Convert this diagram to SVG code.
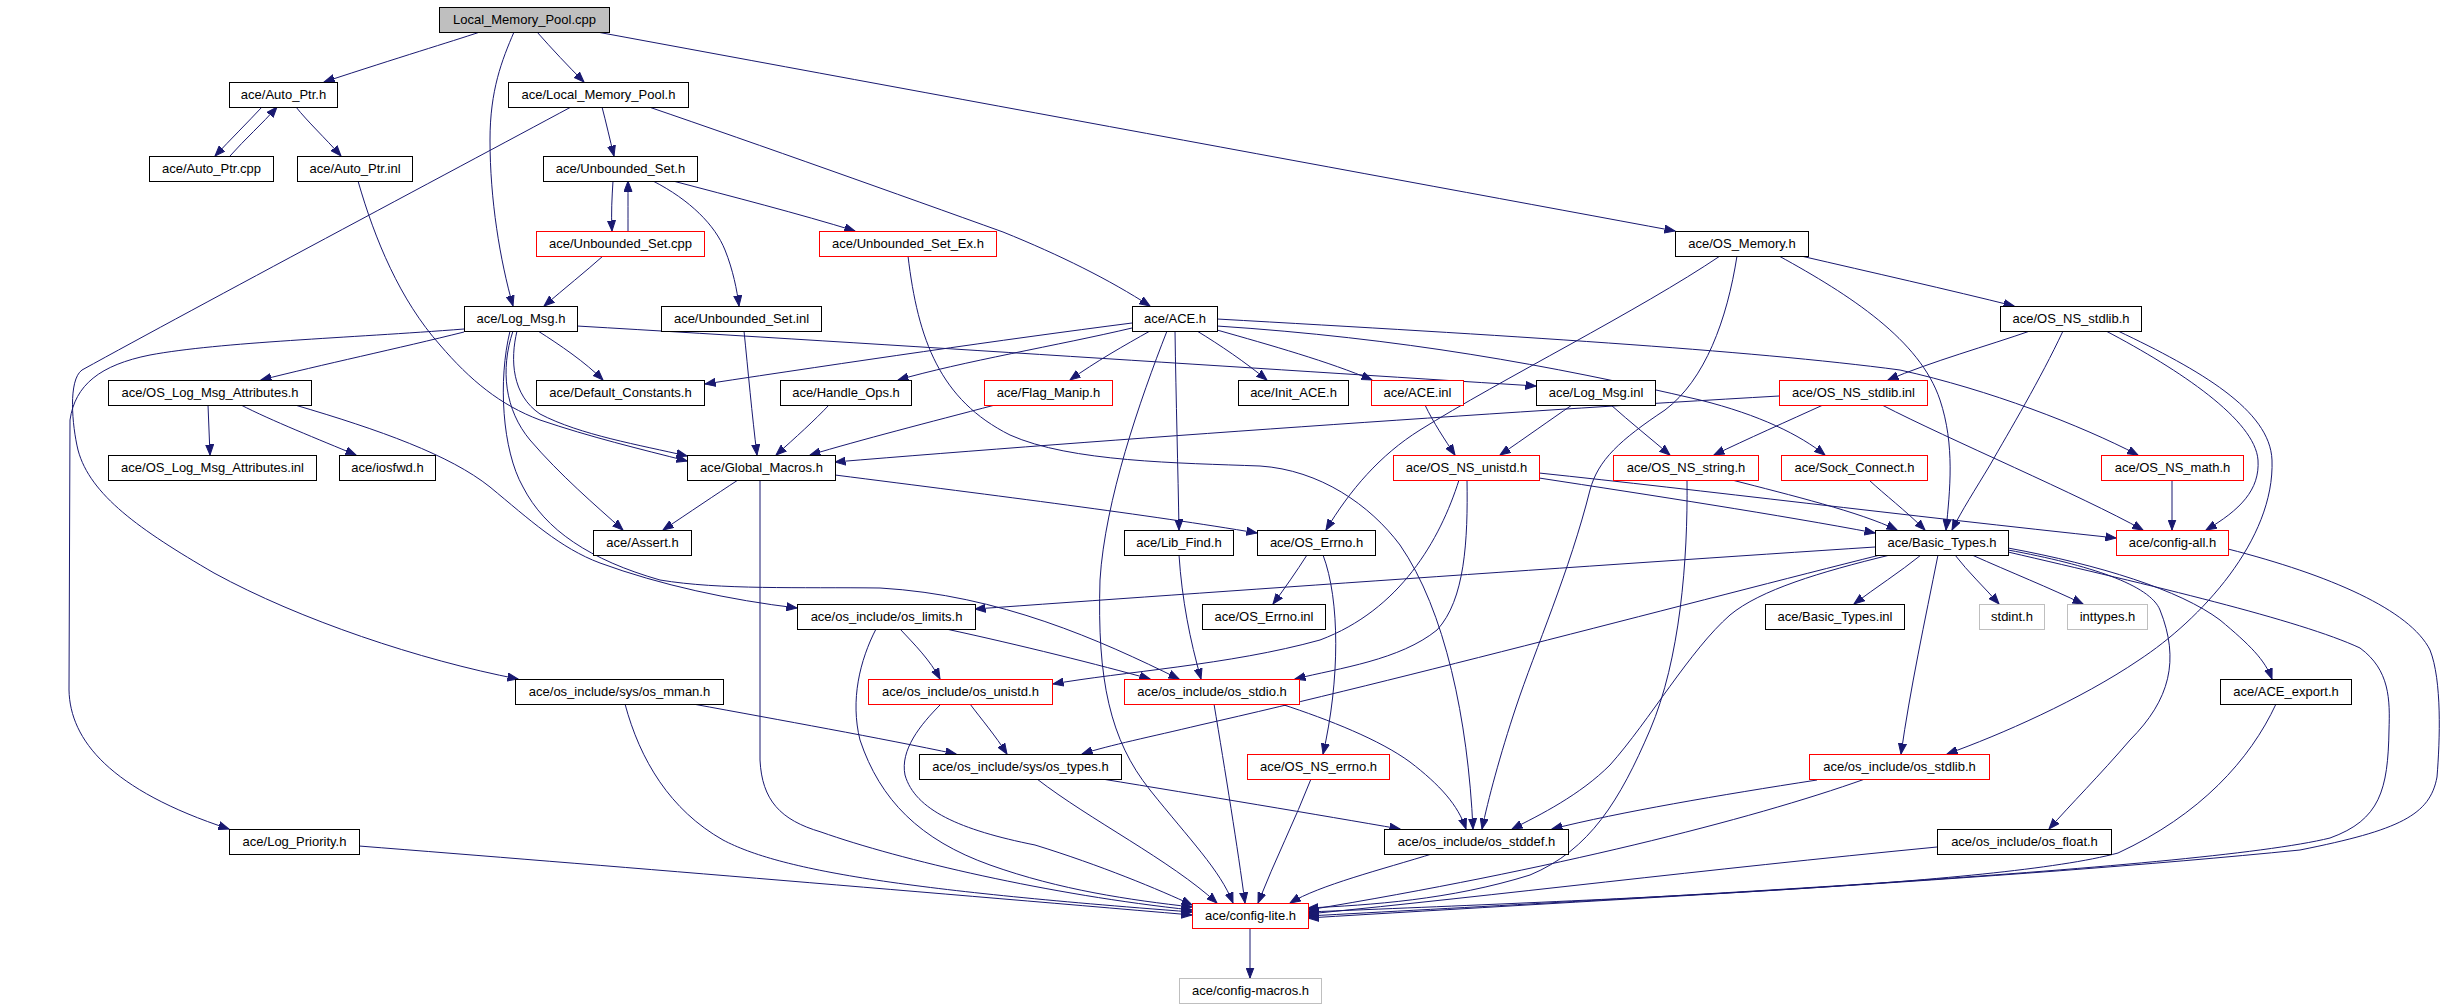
<svg xmlns="http://www.w3.org/2000/svg" width="2457" height="1008" viewBox="0 0 2457 1008">
<defs>
<marker id="a" markerWidth="11" markerHeight="9" refX="10.5" refY="4.5" orient="auto" markerUnits="userSpaceOnUse"><path d="M0,0.5 L10.5,4.5 L0,8.5 z" fill="#191970" stroke="#191970" stroke-width="1"/></marker>
<style>
.n rect{fill:#fff;stroke:#000;stroke-width:1}
.n.r rect{stroke:#f00}
.n.g rect{stroke:#bfbfbf}
.n.root rect{fill:#bfbfbf}
text{font-family:"Liberation Sans",Arial,Helvetica,sans-serif;font-size:13px;text-anchor:middle;fill:#000}
#edges path{fill:none;stroke:#191970;stroke-width:1;marker-end:url(#a)}
</style>
</defs>
<rect width="2457" height="1008" fill="#fff"/>
<g id="edges">
<path d="M480,32 C450,42 400,57 324,82"/>
<path d="M514,32 C502,60 490,90 490,140 C490,200 500,260 513,306"/>
<path d="M537,32 C552,49 568,66 584,82"/>
<path d="M597,32 C900,88 1400,180 1675,231"/>
<path d="M262,107 C248,122 230,140 215,156"/>
<path d="M230,156 C245,139 262,124 277,107"/>
<path d="M296,107 C307,121 325,138 341,156"/>
<path d="M358,181 C375,240 400,300 440,345 C470,380 500,405 540,420 C590,437 640,449 687,461"/>
<path d="M602,107 C606,122 610,140 614,156"/>
<path d="M649,107 C760,145 900,195 1003,232 C1060,255 1110,280 1150,306"/>
<path d="M571,107 C450,172 200,305 82,370 C68,380 72,425 78,450 C90,495 140,530 214,573 C300,620 420,660 518,679"/>
<path d="M613,181 C612,197 611,213 612,231"/>
<path d="M628,231 C628,215 628,198 628,181"/>
<path d="M673,181 C730,196 800,214 855,231"/>
<path d="M653,181 C690,200 715,225 725,250 C733,270 737,290 739,306"/>
<path d="M603,256 C585,272 565,288 544,306"/>
<path d="M908,256 C918,340 940,400 1010,435 C1070,462 1180,463 1260,466 C1320,470 1370,505 1400,545 C1445,610 1468,720 1473,829"/>
<path d="M744,331 C748,370 752,415 757,455"/>
<path d="M1132,323 C1000,340 850,362 705,384"/>
<path d="M1132,328 C1060,345 960,362 898,380"/>
<path d="M1150,331 C1125,345 1095,362 1070,380"/>
<path d="M1197,331 C1220,345 1245,362 1267,380"/>
<path d="M1217,330 C1270,345 1330,362 1372,380"/>
<path d="M1217,319 C1500,335 1750,350 1900,370 C1990,390 2080,425 2138,455"/>
<path d="M1217,326 C1400,338 1550,365 1700,400 C1760,415 1800,435 1825,455"/>
<path d="M1175,331 C1176,400 1178,470 1179,530"/>
<path d="M1167,331 C1140,400 1105,500 1100,580 C1097,680 1110,740 1150,790 C1190,840 1220,870 1233,903"/>
<path d="M1779,396 C1500,412 1100,440 835,462"/>
<path d="M829,405 C815,420 795,438 776,455"/>
<path d="M995,405 C930,422 860,440 810,455"/>
<path d="M738,480 C715,495 690,512 663,530"/>
<path d="M760,480 L760,760 C762,800 780,820 821,832 C900,860 1050,895 1192,910"/>
<path d="M835,475 C1000,496 1150,515 1257,533"/>
<path d="M1572,405 C1550,420 1525,438 1500,455"/>
<path d="M1611,405 C1630,422 1650,438 1670,455"/>
<path d="M1425,405 C1433,422 1445,440 1455,455"/>
<path d="M1801,256 C1870,272 1950,290 2014,306"/>
<path d="M1737,256 C1727,320 1705,380 1665,410 C1620,440 1598,460 1590,490 C1570,570 1535,650 1516,707 C1500,755 1488,800 1482,829"/>
<path d="M1720,256 C1640,310 1500,380 1420,430 C1380,455 1350,490 1326,530"/>
<path d="M1779,256 C1850,295 1920,340 1940,400 C1955,445 1950,490 1946,530"/>
<path d="M2030,331 C1990,345 1930,362 1888,380"/>
<path d="M2063,331 C2040,380 2010,430 1990,465 C1975,490 1962,510 1952,530"/>
<path d="M2118,331 C2200,370 2270,410 2272,460 C2275,540 2200,620 2139,660 C2080,700 2000,735 1947,754"/>
<path d="M2106,331 C2180,370 2255,420 2258,460 C2260,490 2240,510 2206,530"/>
<path d="M1823,405 C1790,420 1745,440 1714,455"/>
<path d="M1882,405 C1950,440 2080,495 2143,530"/>
<path d="M1869,480 C1885,495 1905,510 1925,530"/>
<path d="M2172,480 L2172,530"/>
<path d="M1539,473 C1700,490 1900,515 2116,538"/>
<path d="M1539,478 C1650,495 1780,515 1875,533"/>
<path d="M1732,480 C1790,495 1860,512 1897,530"/>
<path d="M1459,480 C1440,540 1400,610 1320,640 C1230,665 1120,672 1053,684"/>
<path d="M1467,480 C1468,540 1465,600 1437,630 C1400,660 1340,668 1295,679"/>
<path d="M1687,480 C1688,560 1680,660 1650,730 C1620,800 1590,850 1530,875 C1450,900 1370,905 1308,908"/>
<path d="M1179,555 C1182,600 1190,640 1201,679"/>
<path d="M1307,555 C1296,572 1285,588 1273,604"/>
<path d="M1323,555 C1340,600 1340,680 1323,754"/>
<path d="M1311,779 C1295,820 1275,860 1258,903"/>
<path d="M1214,704 C1225,770 1238,850 1245,903"/>
<path d="M1281,704 C1330,720 1380,740 1410,762 C1440,785 1458,805 1466,829"/>
<path d="M1435,853 C1380,870 1320,885 1290,903"/>
<path d="M900,629 C915,645 930,660 940,679"/>
<path d="M946,629 C1020,645 1100,665 1150,679"/>
<path d="M876,629 C860,660 850,700 860,740 C880,800 920,840 990,865 C1060,890 1130,900 1192,907"/>
<path d="M970,704 C982,720 995,735 1007,754"/>
<path d="M941,704 C920,725 900,750 905,775 C915,810 960,830 1035,845 C1100,865 1160,890 1192,905"/>
<path d="M693,704 C780,720 880,738 956,754"/>
<path d="M625,704 C640,760 670,810 723,840 C780,870 900,890 1192,912"/>
<path d="M1037,779 C1090,820 1170,860 1217,903"/>
<path d="M1102,779 C1200,795 1320,815 1400,829"/>
<path d="M359,846 C600,865 900,890 1192,915"/>
<path d="M1250,928 L1250,978"/>
<path d="M1921,555 C1900,572 1875,588 1854,604"/>
<path d="M1955,555 C1968,572 1985,588 1999,604"/>
<path d="M1972,555 C2010,572 2050,588 2083,604"/>
<path d="M2008,548 C2100,565 2180,590 2220,620 C2250,645 2265,660 2272,679"/>
<path d="M2008,550 C2090,565 2150,585 2160,610 C2180,660 2170,700 2130,740 C2100,775 2070,805 2049,829"/>
<path d="M2008,552 C2150,585 2300,620 2360,648 C2390,670 2390,700 2389,730 C2388,790 2380,820 2330,838 C2200,870 1600,900 1308,916"/>
<path d="M2228,549 C2330,575 2410,610 2430,650 C2442,680 2440,740 2437,777 C2430,815 2400,830 2300,850 C2000,880 1600,900 1308,918"/>
<path d="M2276,704 C2250,760 2200,815 2118,853 C2000,885 1600,900 1308,912"/>
<path d="M1937,847 C1700,870 1500,895 1308,914"/>
<path d="M1865,779 C1750,820 1550,870 1308,910"/>
<path d="M1817,780 C1720,795 1620,812 1552,829"/>
<path d="M1890,555 C1820,572 1760,590 1730,615 C1690,650 1650,720 1610,765 C1580,795 1540,815 1512,829"/>
<path d="M1880,555 C1700,600 1400,680 1200,725 C1150,737 1110,745 1082,754"/>
<path d="M1875,547 C1600,565 1200,593 975,609"/>
<path d="M1938,555 C1925,620 1910,690 1901,754"/>
<path d="M464,332 C400,348 320,365 261,380"/>
<path d="M538,331 C560,345 585,362 603,380"/>
<path d="M464,329 C350,338 220,342 150,355 C100,365 75,385 70,420 L69,690 C70,740 110,790 229,829"/>
<path d="M517,331 C510,360 512,395 540,414 C580,435 640,445 687,456"/>
<path d="M513,331 C500,370 505,410 530,440 C560,475 595,505 623,530"/>
<path d="M510,331 C498,380 502,450 523,487 C545,530 590,560 660,580 C720,590 800,587 880,588 C1000,595 1100,640 1179,679"/>
<path d="M295,405 C380,430 450,455 490,487 C530,520 560,548 600,563 C660,585 730,600 797,608"/>
<path d="M208,405 L210,455"/>
<path d="M241,405 C270,420 320,440 356,455"/>
<path d="M577,326 C900,345 1250,368 1536,386"/>
</g>
<g id="LMP_cpp" class="n root"><rect x="439.5" y="7.5" width="170" height="25"/><text x="524.5" y="24">Local_Memory_Pool.cpp</text></g>
<g id="Auto_Ptr_h" class="n"><rect x="229.5" y="82.5" width="108" height="25"/><text x="283.5" y="99">ace/Auto_Ptr.h</text></g>
<g id="Local_Memory_Pool_h" class="n"><rect x="508.5" y="82.5" width="180" height="25"/><text x="598.5" y="99">ace/Local_Memory_Pool.h</text></g>
<g id="Auto_Ptr_cpp" class="n"><rect x="149.5" y="156.5" width="124" height="25"/><text x="211.5" y="173">ace/Auto_Ptr.cpp</text></g>
<g id="Auto_Ptr_inl" class="n"><rect x="297.5" y="156.5" width="115" height="25"/><text x="355" y="173">ace/Auto_Ptr.inl</text></g>
<g id="Unbounded_Set_h" class="n"><rect x="543.5" y="156.5" width="154" height="25"/><text x="620.5" y="173">ace/Unbounded_Set.h</text></g>
<g id="Unbounded_Set_cpp" class="n r"><rect x="536.5" y="231.5" width="168" height="25"/><text x="620.5" y="248">ace/Unbounded_Set.cpp</text></g>
<g id="Unbounded_Set_Ex_h" class="n r"><rect x="819.5" y="231.5" width="177" height="25"/><text x="908" y="248">ace/Unbounded_Set_Ex.h</text></g>
<g id="OS_Memory_h" class="n"><rect x="1675.5" y="231.5" width="133" height="25"/><text x="1742" y="248">ace/OS_Memory.h</text></g>
<g id="Log_Msg_h" class="n"><rect x="464.5" y="306.5" width="113" height="25"/><text x="521" y="323">ace/Log_Msg.h</text></g>
<g id="Unbounded_Set_inl" class="n"><rect x="661.5" y="306.5" width="160" height="25"/><text x="741.5" y="323">ace/Unbounded_Set.inl</text></g>
<g id="ACE_h" class="n"><rect x="1132.5" y="306.5" width="85" height="25"/><text x="1175" y="323">ace/ACE.h</text></g>
<g id="OS_NS_stdlib_h" class="n"><rect x="2000.5" y="306.5" width="141" height="25"/><text x="2071" y="323">ace/OS_NS_stdlib.h</text></g>
<g id="OS_Log_Msg_Attributes_h" class="n"><rect x="108.5" y="380.5" width="203" height="25"/><text x="210" y="397">ace/OS_Log_Msg_Attributes.h</text></g>
<g id="Default_Constants_h" class="n"><rect x="536.5" y="380.5" width="168" height="25"/><text x="620.5" y="397">ace/Default_Constants.h</text></g>
<g id="Handle_Ops_h" class="n"><rect x="780.5" y="380.5" width="131" height="25"/><text x="846" y="397">ace/Handle_Ops.h</text></g>
<g id="Flag_Manip_h" class="n r"><rect x="984.5" y="380.5" width="128" height="25"/><text x="1048.5" y="397">ace/Flag_Manip.h</text></g>
<g id="Init_ACE_h" class="n"><rect x="1238.5" y="380.5" width="110" height="25"/><text x="1293.5" y="397">ace/Init_ACE.h</text></g>
<g id="ACE_inl" class="n r"><rect x="1371.5" y="380.5" width="92" height="25"/><text x="1417.5" y="397">ace/ACE.inl</text></g>
<g id="Log_Msg_inl" class="n"><rect x="1536.5" y="380.5" width="119" height="25"/><text x="1596" y="397">ace/Log_Msg.inl</text></g>
<g id="OS_NS_stdlib_inl" class="n r"><rect x="1779.5" y="380.5" width="148" height="25"/><text x="1853.5" y="397">ace/OS_NS_stdlib.inl</text></g>
<g id="OS_Log_Msg_Attributes_inl" class="n"><rect x="108.5" y="455.5" width="208" height="25"/><text x="212.5" y="472">ace/OS_Log_Msg_Attributes.inl</text></g>
<g id="iosfwd_h" class="n"><rect x="339.5" y="455.5" width="96" height="25"/><text x="387.5" y="472">ace/iosfwd.h</text></g>
<g id="Global_Macros_h" class="n"><rect x="687.5" y="455.5" width="148" height="25"/><text x="761.5" y="472">ace/Global_Macros.h</text></g>
<g id="OS_NS_unistd_h" class="n r"><rect x="1393.5" y="455.5" width="146" height="25"/><text x="1466.5" y="472">ace/OS_NS_unistd.h</text></g>
<g id="OS_NS_string_h" class="n r"><rect x="1613.5" y="455.5" width="145" height="25"/><text x="1686" y="472">ace/OS_NS_string.h</text></g>
<g id="Sock_Connect_h" class="n r"><rect x="1781.5" y="455.5" width="146" height="25"/><text x="1854.5" y="472">ace/Sock_Connect.h</text></g>
<g id="OS_NS_math_h" class="n r"><rect x="2101.5" y="455.5" width="142" height="25"/><text x="2172.5" y="472">ace/OS_NS_math.h</text></g>
<g id="Assert_h" class="n"><rect x="593.5" y="530.5" width="98" height="25"/><text x="642.5" y="547">ace/Assert.h</text></g>
<g id="Lib_Find_h" class="n"><rect x="1124.5" y="530.5" width="109" height="25"/><text x="1179" y="547">ace/Lib_Find.h</text></g>
<g id="OS_Errno_h" class="n"><rect x="1257.5" y="530.5" width="118" height="25"/><text x="1316.5" y="547">ace/OS_Errno.h</text></g>
<g id="Basic_Types_h" class="n"><rect x="1875.5" y="530.5" width="133" height="25"/><text x="1942" y="547">ace/Basic_Types.h</text></g>
<g id="config_all_h" class="n r"><rect x="2116.5" y="530.5" width="112" height="25"/><text x="2172.5" y="547">ace/config-all.h</text></g>
<g id="os_limits_h" class="n"><rect x="797.5" y="604.5" width="178" height="25"/><text x="886.5" y="621">ace/os_include/os_limits.h</text></g>
<g id="OS_Errno_inl" class="n"><rect x="1202.5" y="604.5" width="123" height="25"/><text x="1264" y="621">ace/OS_Errno.inl</text></g>
<g id="Basic_Types_inl" class="n"><rect x="1765.5" y="604.5" width="139" height="25"/><text x="1835" y="621">ace/Basic_Types.inl</text></g>
<g id="stdint_h" class="n g"><rect x="1979.5" y="604.5" width="65" height="25"/><text x="2012" y="621">stdint.h</text></g>
<g id="inttypes_h" class="n g"><rect x="2067.5" y="604.5" width="80" height="25"/><text x="2107.5" y="621">inttypes.h</text></g>
<g id="os_mman_h" class="n"><rect x="515.5" y="679.5" width="208" height="25"/><text x="619.5" y="696">ace/os_include/sys/os_mman.h</text></g>
<g id="os_unistd_h" class="n r"><rect x="868.5" y="679.5" width="184" height="25"/><text x="960.5" y="696">ace/os_include/os_unistd.h</text></g>
<g id="os_stdio_h" class="n r"><rect x="1124.5" y="679.5" width="175" height="25"/><text x="1212" y="696">ace/os_include/os_stdio.h</text></g>
<g id="ACE_export_h" class="n"><rect x="2220.5" y="679.5" width="131" height="25"/><text x="2286" y="696">ace/ACE_export.h</text></g>
<g id="os_types_h" class="n"><rect x="919.5" y="754.5" width="202" height="25"/><text x="1020.5" y="771">ace/os_include/sys/os_types.h</text></g>
<g id="OS_NS_errno_h" class="n r"><rect x="1247.5" y="754.5" width="142" height="25"/><text x="1318.5" y="771">ace/OS_NS_errno.h</text></g>
<g id="os_stdlib_h" class="n r"><rect x="1809.5" y="754.5" width="180" height="25"/><text x="1899.5" y="771">ace/os_include/os_stdlib.h</text></g>
<g id="Log_Priority_h" class="n"><rect x="229.5" y="829.5" width="130" height="25"/><text x="294.5" y="846">ace/Log_Priority.h</text></g>
<g id="os_stddef_h" class="n"><rect x="1384.5" y="829.5" width="184" height="25"/><text x="1476.5" y="846">ace/os_include/os_stddef.h</text></g>
<g id="os_float_h" class="n"><rect x="1937.5" y="829.5" width="174" height="25"/><text x="2024.5" y="846">ace/os_include/os_float.h</text></g>
<g id="config_lite_h" class="n r"><rect x="1192.5" y="903.5" width="116" height="25"/><text x="1250.5" y="920">ace/config-lite.h</text></g>
<g id="config_macros_h" class="n g"><rect x="1179.5" y="978.5" width="142" height="25"/><text x="1250.5" y="995">ace/config-macros.h</text></g>
</svg>
